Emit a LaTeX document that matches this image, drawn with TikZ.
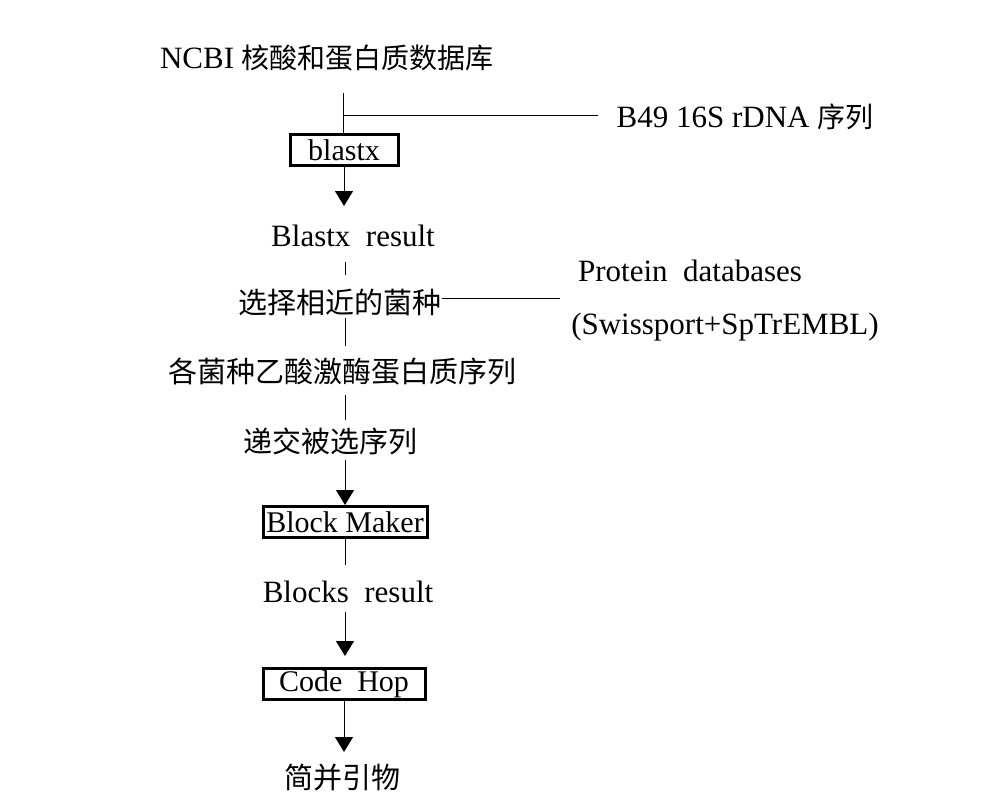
\documentclass[tikz,border=0pt]{standalone}
\usepackage{fontspec}
\setmainfont{Liberation Serif}
\newfontfamily\cjk{Noto Sans CJK SC}
\usetikzlibrary{arrows.meta}
\begin{document}
\begin{tikzpicture}[x=1pt,y=-1pt,
  txt/.style={inner sep=0pt,font=\fontsize{31}{34}\selectfont},
  box/.style={draw,line width=3pt,inner sep=0pt,minimum height=31pt,font=\fontsize{30}{32}\selectfont},
  ln/.style={line width=1pt},
  ar/.style={line width=1pt,-{Triangle[length=15pt,width=18pt]}}]
\useasboundingbox (0,0) rectangle (984,809);
\node[txt] (ncbi) at (327,58) {NCBI {\cjk\fontsize{28}{30}\selectfont 核酸和蛋白质数据库}};
\coordinate (j1) at (343,115);
\node[txt] (b49) at (745,117) {B49 16S rDNA {\cjk\fontsize{28}{30}\selectfont 序列}};
\node[box,minimum width=108pt] (blastx) at (344,150) {blastx};
\node[txt] (bres) at (353,236) {Blastx\ \ result};
\node[txt,font=\cjk\fontsize{29}{31}\selectfont] (sel) at (340,302) {选择相近的菌种};
\node[txt] (pdb) at (690,271) {Protein\ \ databases};
\node[txt] (sw) at (725,327) {(Swissport+SpTrEMBL)};
\coordinate (j2) at (560,298);
\node[txt,font=\cjk\fontsize{29}{31}\selectfont] (seq) at (342,372) {各菌种乙酸激酶蛋白质序列};
\node[txt,font=\cjk\fontsize{29}{31}\selectfont] (sub) at (330,441) {递交被选序列};
\node[box,minimum width=164pt] (bm) at (345,522) {Block Maker};
\node[txt] (blr) at (348,592) {Blocks\ \ result};
\node[box,minimum width=162pt] (ch) at (344,684) {Code\ \ Hop};
\node[txt,font=\cjk\fontsize{29}{31}\selectfont] (pr) at (342,778) {简并引物};
\coordinate (c1) at (344,752);
\draw[ln] (343,93) -- (343,135);
\draw[ln] (j1) -- (598,115);
\draw[ar] (blastx.south) -- (344,206);
\draw[ln] (345,262) -- (345,275);
\draw[ln] (sel.east |- j2) -- (j2);
\draw[ln] (345,318) -- (345,346);
\draw[ln] (345,395) -- (345,420);
\draw[ar] (345,460) -- (bm.north);
\draw[ln] (345,537) -- (345,565);
\draw[ar] (345,612) -- (345,656);
\draw[ar] (ch.south) -- (c1);
\end{tikzpicture}
\end{document}
